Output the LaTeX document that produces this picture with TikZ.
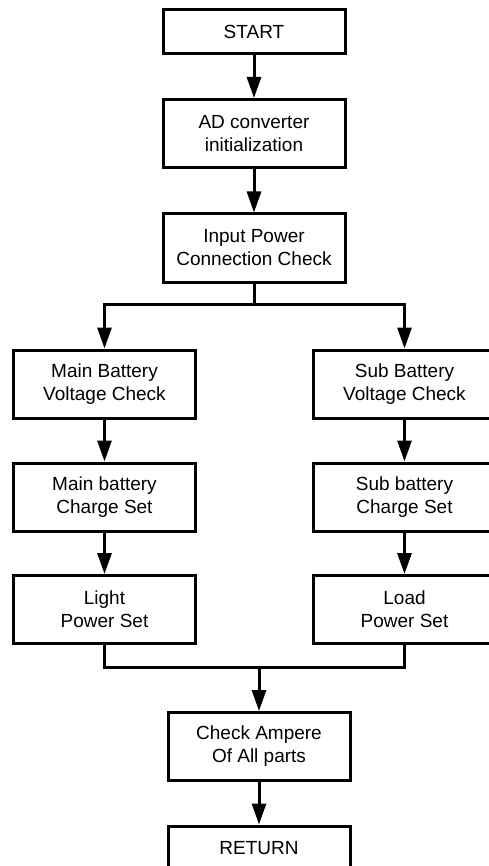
\documentclass[tikz,border=0pt]{standalone}
\usepackage{fontspec}
\setmainfont{Liberation Sans}
\usetikzlibrary{arrows.meta}
\begin{document}
\begin{tikzpicture}[x=1pt,y=-1pt,
  box/.style={draw=black, line width=3pt, minimum width=182pt, inner sep=0pt,
    align=center, font=\fontsize{19}{23}\selectfont},
  onebox/.style={box, minimum height=44pt},
  twobox/.style={box, minimum height=68pt},
  conn/.style={line width=3pt},
  arr/.style={conn, -{Triangle[width=14pt,length=21pt]}}]
\useasboundingbox (0,0) rectangle (489,866);
\clip (0,0) rectangle (489,866);
\node[onebox] (start) at (254,32) {START};
\node[twobox] (ad) at (254,133.5) {AD converter\\initialization};
\node[twobox] (inp) at (254,248) {Input Power\\Connection Check};
\node[twobox] (mbv) at (104.5,384) {Main Battery\\Voltage Check};
\node[twobox] (mbc) at (104.5,497) {Main battery\\Charge Set};
\node[twobox] (lps) at (104.5,609.5) {Light\\Power Set};
\node[twobox] (sbv) at (404.5,384) {Sub Battery\\Voltage Check};
\node[twobox] (sbc) at (404.5,497) {Sub battery\\Charge Set};
\node[twobox] (ldp) at (404.5,609.5) {Load\\Power Set};
\node[twobox] (chk) at (259,746.5) {Check Ampere\\Of All parts};
\node[onebox] (ret) at (259,848) {RETURN};
\coordinate (br) at (254,304);
\coordinate (jn) at (259,667);
\draw[arr] (start) -- (ad);
\draw[arr] (ad) -- (inp);
\draw[conn] (inp.south) -- (br);
\draw[arr] (br) -| (mbv.north);
\draw[arr] (br) -| (sbv.north);
\draw[arr] (mbv) -- (mbc);
\draw[arr] (mbc) -- (lps);
\draw[arr] (sbv) -- (sbc);
\draw[arr] (sbc) -- (ldp);
\draw[conn] (lps.south) |- (jn) -| (ldp.south);
\draw[arr] (jn) -- (chk.north);
\draw[arr] (chk) -- (ret);
\end{tikzpicture}
\end{document}
